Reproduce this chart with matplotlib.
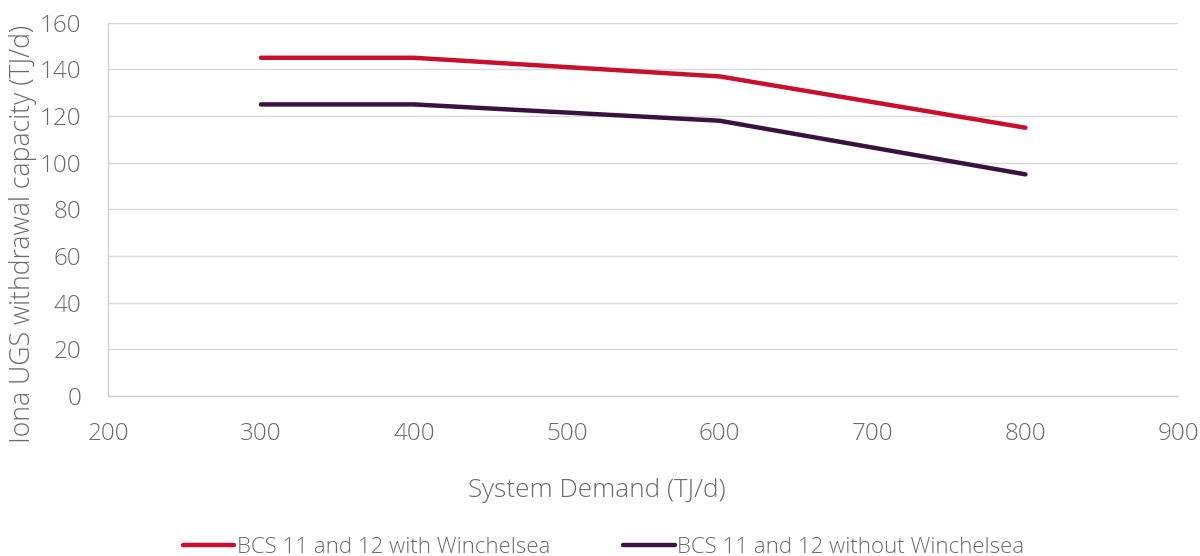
import matplotlib
matplotlib.use("Agg")
import matplotlib.pyplot as plt

demand = [300, 400, 600, 800]
with_winchelsea = [145, 145, 137, 115]
without_winchelsea = [125, 125, 118, 95]

x_ticks = [200, 300, 400, 500, 600, 700, 800, 900]
y_ticks = [0, 20, 40, 60, 80, 100, 120, 140, 160]

plt.rcParams["font.family"] = ["Open Sans", "DejaVu Sans"]
text_color = "#6b6b6b"

fig = plt.figure(figsize=(12, 5.56), dpi=100)
ax = fig.add_axes([0.09, 0.288, 0.892, 0.671])

ax.plot(demand, with_winchelsea, color="#C8102E", lw=3.2,
        solid_capstyle="round", label="BCS 11 and 12 with Winchelsea")
ax.plot(demand, without_winchelsea, color="#3A1240", lw=3.2,
        solid_capstyle="round", label="BCS 11 and 12 without Winchelsea")

ax.set_xlim(200, 900)
ax.set_ylim(0, 160)
ax.set_xticks(x_ticks)
ax.set_yticks(y_ticks)
ax.grid(axis="y", color="#d9d9d9", lw=1)
ax.set_axisbelow(True)

for side in ["top", "right"]:
    ax.spines[side].set_visible(False)
for side in ["left", "bottom"]:
    ax.spines[side].set_color("#d0d0d0")
    ax.spines[side].set_linewidth(1)

ax.tick_params(length=0, labelsize=17.5, colors=text_color)
ax.tick_params(axis="y", pad=19)
ax.tick_params(axis="x", pad=19)
for lbl in ax.get_xticklabels() + ax.get_yticklabels():
    lbl.set_fontweight("light")

# axis titles placed against the whole figure, like the original chart
fig.text(0.497, 0.118, "System Demand (TJ/d)", fontsize=18.8, color=text_color,
         fontweight="light", ha="center", va="center")
fig.text(0.019, 0.58, "Iona UGS withdrawal capacity (TJ/d)", fontsize=19.2,
         color=text_color, fontweight="light", rotation=90,
         ha="center", va="center")

leg = fig.legend(loc="lower center", bbox_to_anchor=(0.503, -0.04), ncol=2,
                 frameon=False, handlelength=2.3, handletextpad=0.1,
                 columnspacing=3.3, prop={"size": 16, "weight": "light"})
for t in leg.get_texts():
    t.set_color(text_color)

fig.savefig("out.png", dpi=100)
